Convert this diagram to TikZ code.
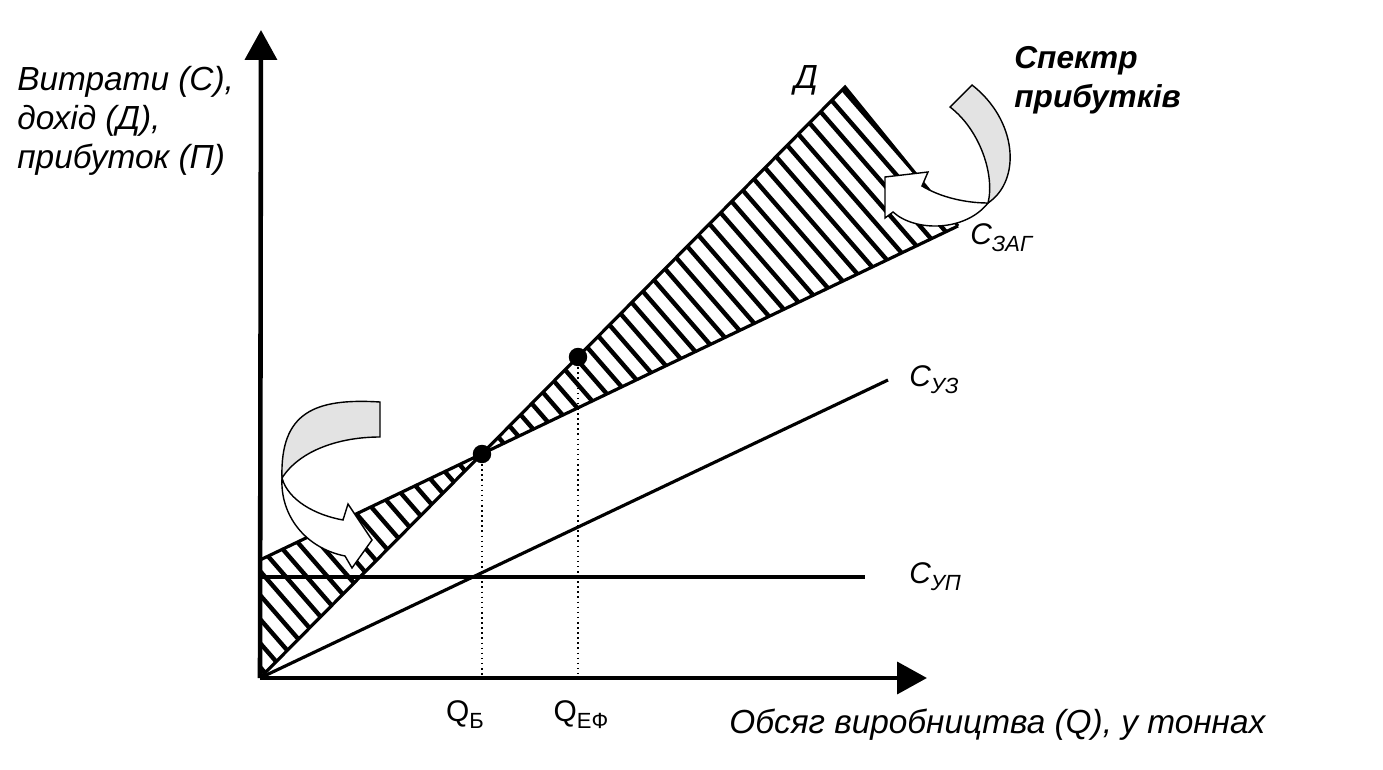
\documentclass[tikz,border=0pt]{standalone}
\usepackage{fontspec}
\setmainfont{Liberation Sans}
\usepackage{tikz}
\usetikzlibrary{arrows.meta, calc}
\newcommand{\lowsub}[1]{\raisebox{-0.45ex}{\fontsize{12.5}{13}\selectfont #1}}

\begin{document}
\begin{tikzpicture}[x=0.02cm, y=-0.02cm,
    axisline/.style={line width=2.6pt, -{Triangle[length=17pt, width=18pt]}},
    costline/.style={line width=1.8pt},
    hatchline/.style={line width=2.5pt},
    dropline/.style={line width=0.9pt, dotted},
    bandgray/.style={draw, line width=0.8pt, fill=gray!22},
    bandwhite/.style={draw, line width=0.8pt, fill=white},
    dotmark/.style={circle, fill=black, inner sep=0pt, minimum size=10.5pt},
    bigtext/.style={font=\fontsize{19}{22}\selectfont\itshape, inner sep=0pt},
    curvetext/.style={font=\fontsize{17}{19}\selectfont\itshape, inner sep=0pt, anchor=west},
    qtext/.style={font=\fontsize{17}{19}\selectfont, inner sep=0pt}]
        \fill[white] (0,0) rectangle (1383,770);
        \useasboundingbox (0,0) rectangle (1383,770);

        % ---- key points (pixel grid, y down) ----
        \coordinate (O)     at (260,678);
        \coordinate (Yend)  at (261,30);
        \coordinate (Xend)  at (927,678);
        \coordinate (Dend)  at (845,87);
        \coordinate (Zfix)  at (260,560);
        \coordinate (Zend)  at (958,226);
        \coordinate (UZend) at (888,380);
        \coordinate (UPfix) at (260,577);
        \coordinate (UPend) at (865,577);
        \coordinate (BE)    at (482,454);
        \coordinate (EF)    at (578,357);

        % ---- profit area hatching ----
        \begin{scope}
          \clip (O) -- (Zfix) -- (BE) -- cycle
                (BE) -- (Dend) -- (Zend) -- cycle;
          \foreach \k in {-392,-368,...,900}
            \draw[hatchline] (200,{230-\k}) -- (1000,{1150-\k});
        \end{scope}

        % revenue line D and total costs
        \draw[costline] (O) -- (Dend) -- (Zend);
        \draw[costline] (Zfix) -- (Zend);
        % variable and fixed costs
        \draw[costline] (O) -- (UZend);
        \draw[costline] (UPfix) -- (UPend);

        % drop lines to the Q axis
        \draw[dropline] (BE) -- (BE |- O);
        \draw[dropline] (EF) -- (EF |- O);

        % axes
        \draw[axisline] (O) -- (Yend);
        \draw[axisline] (O) -- (Xend);

        % ---- curved arrow, left ----
        \draw[bandgray] (380,402) -- (380,437)
              .. controls (340,437) and (300,450) .. (282,478)
              .. controls (280,412) and (315,398) .. (380,402) -- cycle;
        \draw[bandwhite] (282,478)
              .. controls (288,500) and (315,515) .. (343,520)
              -- (348,504) -- (372,540) -- (352,568) -- (345,556)
              .. controls (305,548) and (280,515) .. (282,478) -- cycle;

        % ---- curved arrow, right ----
        \draw[bandgray] (950,107) -- (972,85)
              .. controls (1017,120) and (1022,180) .. (988,203)
              .. controls (995,175) and (980,130) .. (950,107) -- cycle;
        \draw[bandwhite] (988,203)
              .. controls (965,203) and (940,197) .. (922,186)
              -- (928,172) -- (885,177) -- (885,218) -- (893,212)
              .. controls (915,232) and (965,232) .. (988,203) -- cycle;

        % break-even and efficiency points
        \node[dotmark] (beDot) at (BE) {};
        \node[dotmark] (efDot) at (EF) {};

        % ---- labels ----
        \node[bigtext, anchor=west, align=left] (ylabel) at (17,121)
              {Витрати (С),\\дохід (Д),\\прибуток (П)};
        \node[bigtext, anchor=west] (xlabel) at (729,725)
              {Обсяг виробництва (Q), у тоннах};
        \node[bigtext] (dlabel) at (806,80) {Д};
        \node[font=\fontsize{18}{22}\selectfont\bfseries\itshape,
              inner sep=0pt, anchor=west, align=left] (spectr) at (1014,80)
              {Спектр\\прибутків};
        \node[curvetext] (czag) at (970,238) {С\lowsub{ЗАГ}};
        \node[curvetext] (cuz)  at (909,380) {С\lowsub{УЗ}};
        \node[curvetext] (cup)  at (909,577) {С\lowsub{УП}};
        \node[qtext] (qb)  at (465,715) {Q\lowsub{Б}};
        \node[qtext] (qef) at (581,715) {Q\lowsub{ЕФ}};
\end{tikzpicture}
\end{document}
